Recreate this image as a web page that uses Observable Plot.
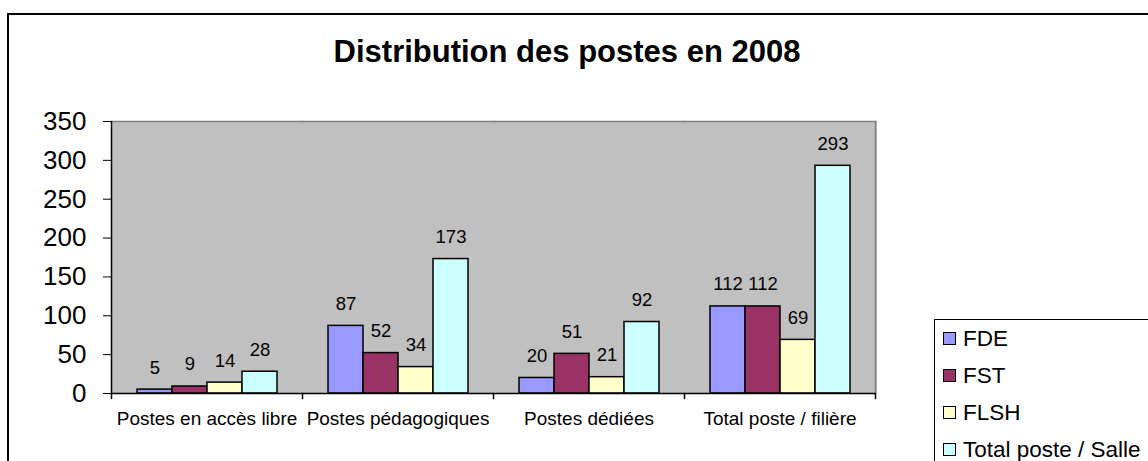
<!DOCTYPE html>
<html>
<head>
<meta charset="utf-8">
<script src="https://cdn.jsdelivr.net/npm/d3@7"></script>
<script src="https://cdn.jsdelivr.net/npm/@observablehq/plot@0.6"></script>
<style>
  body { margin: 0; background: #fff; font-family: "Liberation Sans", Arial, sans-serif; }
  #wrap { position: relative; width: 1148px; height: 461px; overflow: hidden; background: #fff; }
  #outer { position: absolute; left: 7px; top: 13px; width: 1300px; height: 600px; border: 2px solid #000; box-sizing: border-box; }
  #title { position: absolute; left: 0; top: 36px; width: 1134px; text-align: center; font-weight: bold; font-size: 31px; line-height: 31px; color: #000; }
  #chart { position: absolute; left: 0; top: 100px; }
  #legend { position: absolute; left: 934px; top: 319px; width: 400px; height: 300px; border: 1.5px solid #000; background: #fff; padding-left: 8px; box-sizing: border-box; }
  .row { height: 37px; line-height: 37px; font-size: 22.5px; white-space: nowrap; display: flex; align-items: center; }
  .sw { width: 11px; height: 11px; border: 1px solid #000; margin-right: 7px; flex: none; }
</style>
</head>
<body>
<div id="wrap">
  <div id="outer"></div>
  <div id="title">Distribution des postes en 2008</div>
  <div id="chart"></div>
  <div id="legend"></div>
</div>
<script>
const categories = ["Postes en accès libre", "Postes pédagogiques", "Postes dédiées", "Total poste / filière"];
const series = ["FDE", "FST", "FLSH", "Total poste / Salle"];
const colors = ["#9999FF", "#993366", "#FFFFCC", "#CCFFFF"];
const fde = [5, 87, 20, 112];
const fst = [9, 52, 51, 112];
const flsh = [14, 34, 21, 69];
const totalSalle = [28, 173, 92, 293];
const yTicks = [0, 50, 100, 150, 200, 250, 300, 350];

const seriesValues = [fde, fst, flsh, totalSalle];
const table = categories.flatMap((c, i) => series.map((s, j) => ({category: c, series: s, value: seriesValues[j][i]})));

const W = 1148, H = 361, mT = 21, mB = 68, mL = 110, mR = 272;
const innerH = H - mT - mB;
const line = {draw(ctx, l) { ctx.moveTo(0, 0); ctx.lineTo(0, -l); }};

const chart = Plot.plot({
  width: W, height: H,
  marginTop: mT, marginBottom: mB, marginLeft: mL, marginRight: mR,
  style: {fontFamily: "Liberation Sans, Arial, sans-serif", background: "transparent", color: "#000", overflow: "visible"},
  fx: {domain: categories, paddingInner: 0, paddingOuter: 0, round: true, axis: null},
  x: {domain: series, paddingInner: 0, paddingOuter: 0.716, round: true, axis: null},
  y: {domain: [0, 350], axis: null},
  color: {domain: series, range: colors},
  marks: [
    Plot.frame({fill: "#C0C0C0", stroke: "none", insetRight: -1.5}),
    Plot.frame({anchor: "top", stroke: "#808080", strokeWidth: 1.5}),
    Plot.vector([categories[categories.length - 1]], {fx: d => d, frameAnchor: "bottom-right", length: innerH, rotate: 0, anchor: "start", shape: line, stroke: "#808080", strokeWidth: 1.5}),
    Plot.barY(table, {fx: "category", x: "series", y: "value", fill: "series", stroke: "#000", strokeWidth: 1.5}),
    Plot.text(table, {fx: "category", x: "series", y: "value", text: d => String(d.value), dy: -22, fontSize: 18.5, fill: "#000"}),
    Plot.ruleY([0], {stroke: "#000", strokeWidth: 1.5}),
    Plot.vector([categories[0]], {fx: d => d, frameAnchor: "bottom-left", length: innerH, rotate: 0, anchor: "start", shape: line, stroke: "#000", strokeWidth: 1.5}),
    Plot.vector(categories, {fx: d => d, frameAnchor: "bottom-left", length: 5, rotate: 180, anchor: "start", shape: line, stroke: "#000", strokeWidth: 1.5}),
    Plot.vector([categories[categories.length - 1]], {fx: d => d, frameAnchor: "bottom-right", length: 5, rotate: 180, anchor: "start", shape: line, stroke: "#000", strokeWidth: 1.5}),
    Plot.axisY({ticks: yTicks, tickSize: 8, tickPadding: 17, fontSize: 26, label: null, tickFormat: d => String(d), stroke: "#000", fill: "#000"}),
    Plot.axisFx({anchor: "bottom", tickSize: 0, tickPadding: 18, fontSize: 19, label: null, fill: "#000"})
  ]
});
document.getElementById("chart").appendChild(chart);

const legend = document.getElementById("legend");
series.forEach((s, j) => {
  const row = document.createElement("div");
  row.className = "row";
  const sw = document.createElement("span");
  sw.className = "sw";
  sw.style.background = colors[j];
  const t = document.createElement("span");
  t.textContent = s;
  row.appendChild(sw);
  row.appendChild(t);
  legend.appendChild(row);
});
</script>
</body>
</html>
